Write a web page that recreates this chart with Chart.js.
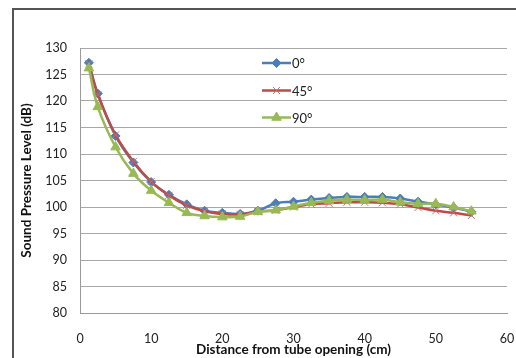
<!DOCTYPE html>
<html>
<head>
<meta charset="utf-8">
<script src="https://cdn.jsdelivr.net/npm/chart.js@4/dist/chart.umd.min.js"></script>
<style>
  html, body { margin: 0; padding: 0; background: #fff; }
  #frame { position: absolute; left: 12px; top: 8px; width: 600px; height: 400px;
           border-top: 2px solid #555; border-left: 2px solid #555; }
  #wrap { position: absolute; left: 0; top: 0; width: 516px; height: 358px; overflow: hidden; }
</style>
</head>
<body>
<div id="wrap">
  <div id="frame"></div>
  <canvas id="splChart" width="516" height="358" style="position:absolute;left:0;top:0"></canvas>
</div>
<script>
  // afstand tot de buisopening (cm)
  const distances = [1.25, 2.5, 5, 7.5, 10, 12.5, 15, 17.5, 20, 22.5, 25, 27.5, 30,
                     32.5, 35, 37.5, 40, 42.5, 45, 47.5, 50, 52.5, 55];
  const spl0 = [127.2, 121.4, 113.4, 108.4, 104.7, 102.3, 100.5, 99.3, 98.9, 98.7, 99.3, 100.7,
                101.0, 101.4, 101.7, 101.9, 101.9, 101.9, 101.6, 101.0, 100.5, 99.9, 99.1];
  const spl45 = [127.0, 121.2, 113.6, 108.6, 104.8, 102.2, 100.3, 99.2, 98.7, 98.6, 99.1, 99.4,
                 100.0, 100.5, 100.7, 100.9, 100.9, 100.8, 100.5, 99.9, 99.3, 98.9, 98.4];
  const spl90 = [126.2, 118.9, 111.3, 106.3, 103.1, 100.8, 98.9, 98.3, 98.1, 98.2, 99.1, 99.4,
                 100.1, 100.8, 101.2, 101.4, 101.3, 101.4, 100.9, 100.6, 100.6, 100.0, 99.2];
  const seriesLabels = ['0°', '45°', '90°'];
  const xTicks = [0, 10, 20, 30, 40, 50, 60];
  const yTicks = [80, 85, 90, 95, 100, 105, 110, 115, 120, 125, 130];

  const FONT = 'Lato, "Open Sans", sans-serif';

  function toPoints(values) {
    return values.map((v, i) => ({ x: distances[i], y: v }));
  }

  // legenda binnen het plotgebied
  const insideLegend = {
    id: 'insideLegend',
    afterDraw(chart) {
      const ctx = chart.ctx;
      const rows = [63, 90.5, 117.5];
      chart.data.datasets.forEach((ds, i) => {
        const y = rows[i];
        ctx.save();
        ctx.strokeStyle = ds.borderColor;
        ctx.lineWidth = 2.5;
        ctx.beginPath();
        ctx.moveTo(262, y);
        ctx.lineTo(291, y);
        ctx.stroke();
        ctx.fillStyle = ds.pointBackgroundColor;
        ctx.strokeStyle = ds.pointBorderColor;
        ctx.lineWidth = ds.pointBorderWidth;
        Chart.helpers.drawPoint(ctx, {
          pointStyle: ds.pointStyle, radius: ds.pointRadius, rotation: 0,
          borderWidth: ds.pointBorderWidth
        }, 276.5, y);
        ctx.fillStyle = '#222';
        ctx.font = '13px ' + FONT;
        ctx.textBaseline = 'middle';
        ctx.fillText(ds.label, 292, y + 1);
        ctx.restore();
      });
    }
  };

  new Chart(document.getElementById('splChart').getContext('2d'), {
    type: 'line',
    data: {
      datasets: [{
        label: seriesLabels[0],
        data: toPoints(spl0),
        borderColor: '#4A7EBB',
        pointBackgroundColor: '#4A7EBB',
        pointBorderColor: '#4A7EBB',
        pointStyle: 'rectRot',
        pointRadius: 4.5,
        pointBorderWidth: 1,
        order: 3
      }, {
        label: seriesLabels[1],
        data: toPoints(spl45),
        borderColor: '#BE4B48',
        pointBackgroundColor: '#BE4B48',
        pointBorderColor: '#C9706D',
        pointStyle: 'crossRot',
        pointRadius: 5,
        pointBorderWidth: 1,
        order: 2
      }, {
        label: seriesLabels[2],
        data: toPoints(spl90),
        borderColor: '#98B954',
        pointBackgroundColor: '#98B954',
        pointBorderColor: '#98B954',
        pointStyle: 'triangle',
        pointRadius: 5.5,
        pointBorderWidth: 1,
        order: 1
      }]
    },
    options: {
      responsive: false,
      animation: false,
      datasets: {
        line: { borderWidth: 2.5, tension: 0.4, fill: false }
      },
      layout: { padding: { left: 14, top: 48, right: 9, bottom: 0 } },
      plugins: {
        legend: { display: false },
        tooltip: { enabled: false }
      },
      scales: {
        x: {
          type: 'linear',
          min: 0,
          max: 60,
          afterBuildTicks: axis => { axis.ticks = xTicks.map(v => ({ value: v })); },
          afterFit: axis => { axis.height = 45; axis.paddingLeft = 0; axis.paddingRight = 0; },
          grid: { display: false, drawTicks: false },
          border: { color: '#9a9a9a' },
          ticks: { color: '#222', padding: 18, font: { family: FONT, size: 12.5 } },
          title: {
            display: true,
            text: 'Distance from tube opening (cm)',
            color: '#111',
            padding: { top: 0, bottom: 0 },
            font: { family: FONT, size: 13.5, weight: 'bold' }
          }
        },
        y: {
          min: 80,
          max: 130,
          afterBuildTicks: axis => { axis.ticks = yTicks.map(v => ({ value: v })); },
          afterFit: axis => { axis.width = 66; },
          grid: { color: '#a8a8a8', lineWidth: 1, drawTicks: false },
          border: { color: '#9a9a9a' },
          ticks: { color: '#222', padding: 13, font: { family: FONT, size: 12.5 } },
          title: {
            display: true,
            text: 'Sound Pressure Level (dB)',
            color: '#111',
            padding: { top: 5, bottom: 0 },
            font: { family: FONT, size: 13.5, weight: 'bold' }
          }
        }
      }
    },
    plugins: [insideLegend]
  });
</script>
</body>
</html>
